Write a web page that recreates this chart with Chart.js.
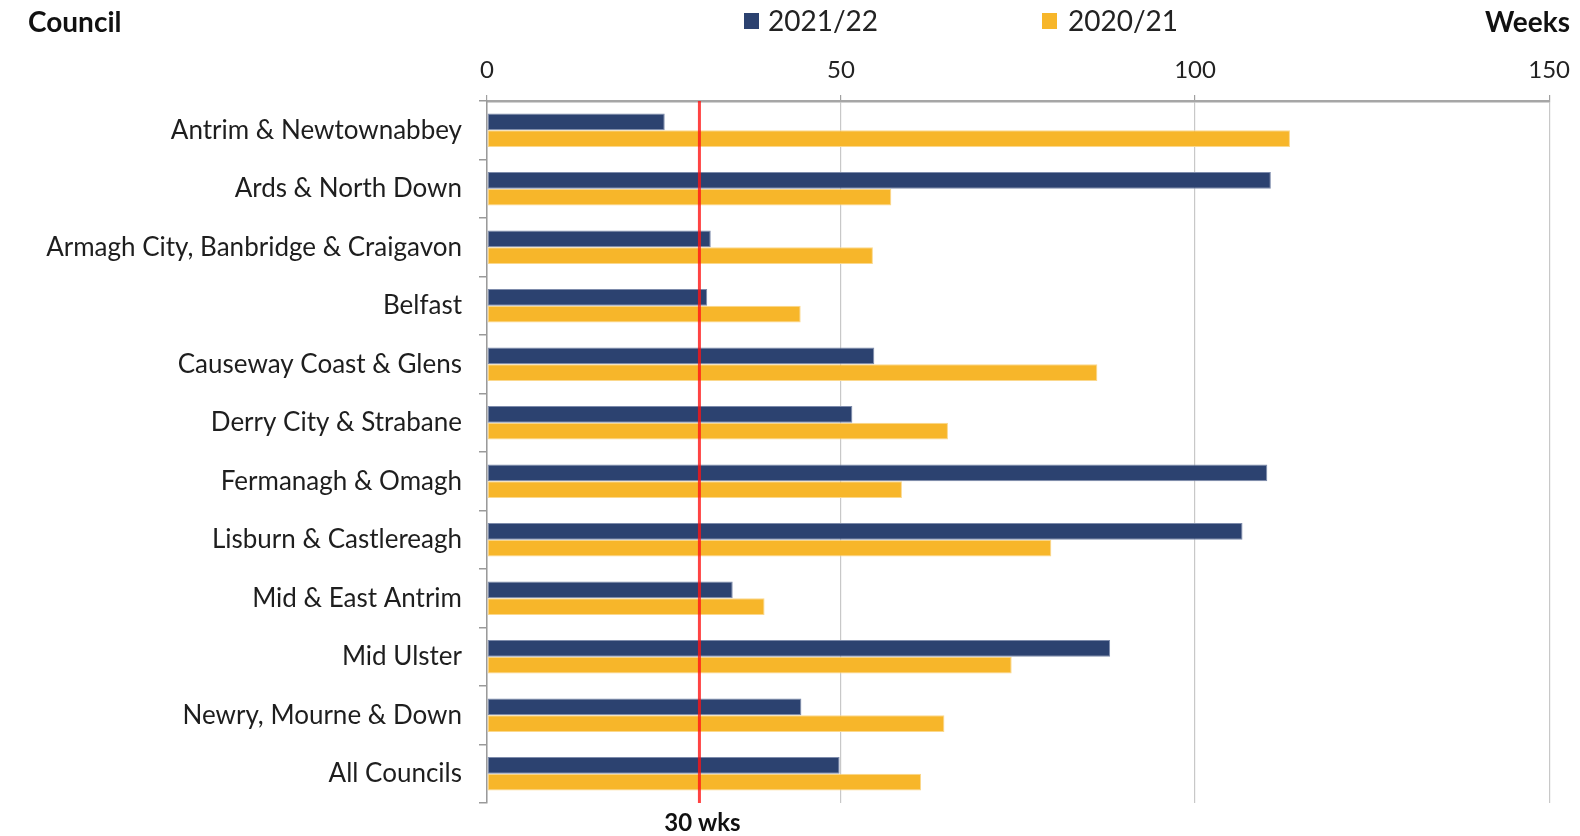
<!DOCTYPE html>
<html><head><meta charset="utf-8">
<script src="https://cdn.jsdelivr.net/npm/chart.js@4"></script>
<style>html,body{margin:0;padding:0;background:#fff}#wrap{width:1580px;height:836px;position:relative}</style>
</head><body><div id="wrap"><canvas id="c" width="1580" height="836"></canvas></div>
<script>
const councils = ['Antrim & Newtownabbey','Ards & North Down','Armagh City, Banbridge & Craigavon','Belfast','Causeway Coast & Glens','Derry City & Strabane','Fermanagh & Omagh','Lisburn & Castlereagh','Mid & East Antrim','Mid Ulster','Newry, Mourne & Down','All Councils'];
const weeks2122 = [25.1, 110.7, 31.6, 31.1, 54.7, 51.6, 110.2, 106.7, 34.7, 88.0, 44.4, 49.8];
const weeks2021 = [113.4, 57.1, 54.5, 44.3, 86.2, 65.1, 58.6, 79.7, 39.2, 74.1, 64.6, 61.3];
const seriesLabels = ['2021/22', '2020/21'];
const axisMin = 0, axisMax = 150, axisStep = 50;
const targetWeeks = 30;
const targetLabel = '30 wks';
const yTitle = 'Council';
const xTitle = 'Weeks';

const FONT = 'Lato';
const NAVY = '#2c4270', GOLD = '#f7b62a';

const overlay = {
  id: 'overlay',
  afterDatasetsDraw(chart) {
    const ctx = chart.ctx, x = chart.scales.x, a = chart.chartArea;
    const px = x.getPixelForValue(targetWeeks);
    ctx.save();
    ctx.strokeStyle = 'rgba(255,20,20,0.8)';
    ctx.lineWidth = 3;
    ctx.beginPath(); ctx.moveTo(px, a.top); ctx.lineTo(px, a.bottom); ctx.stroke();
    ctx.fillStyle = '#111';
    ctx.font = 'bold 24px ' + FONT;
    ctx.textAlign = 'center'; ctx.textBaseline = 'middle';
    ctx.fillText(targetLabel, px + 3, a.bottom + 20);
    // titles
    ctx.font = 'bold 28px ' + FONT;
    ctx.textAlign = 'left';
    ctx.fillText(yTitle, 28, 23);
    ctx.textAlign = 'right';
    ctx.fillText(xTitle, 1570, 23);
    // legend
    const items = [[744, 768], [1042, 1068]];
    ctx.font = '28px ' + FONT;
    ctx.textAlign = 'left';
    chart.data.datasets.forEach((ds, i) => {
      ctx.fillStyle = ds.backgroundColor;
      ctx.fillRect(items[i][0], 13, 15, 16);
      ctx.fillStyle = '#222';
      ctx.fillText(ds.label, items[i][1], 22);
    });
    ctx.restore();
  }
};

new Chart(document.getElementById('c'), {
  type: 'bar',
  data: {
    labels: councils,
    datasets: [
      { label: seriesLabels[0], data: weeks2122, backgroundColor: NAVY, borderColor: '#7d8bab', borderWidth: 1, borderSkipped: false },
      { label: seriesLabels[1], data: weeks2021, backgroundColor: GOLD, borderColor: '#fbd88c', borderWidth: 1, borderSkipped: false }
    ]
  },
  options: {
    indexAxis: 'y',
    responsive: false,
    devicePixelRatio: 1,
    animation: false,
    layout: { padding: { top: 0, right: 27, bottom: 33, left: 0 } },
    datasets: { bar: { categoryPercentage: 0.575, barPercentage: 1.0 } },
    plugins: { legend: { display: false }, tooltip: { enabled: false } },
    scales: {
      x: {
        position: 'top', min: axisMin, max: axisMax,
        ticks: { stepSize: axisStep, color: '#222', font: { family: FONT, size: 24 }, padding: 10 },
        grid: { color: '#c8c8c8', lineWidth: 1.2, tickLength: 6, tickColor: '#a0a0a0' },
        border: { color: '#a6a6a6', width: 2.5 },
        afterFit(s) { s.height = 101; }
      },
      y: {
        ticks: { color: '#1e1e1e', font: { family: FONT, size: 26 }, padding: 17 },
        grid: { drawOnChartArea: false, tickLength: 8, color: '#9a9a9a', lineWidth: 1.5 },
        border: { color: '#9a9a9a', width: 1.5 },
        afterFit(s) { s.width = 487; }
      }
    }
  },
  plugins: [overlay]
});
</script>
</body></html>
